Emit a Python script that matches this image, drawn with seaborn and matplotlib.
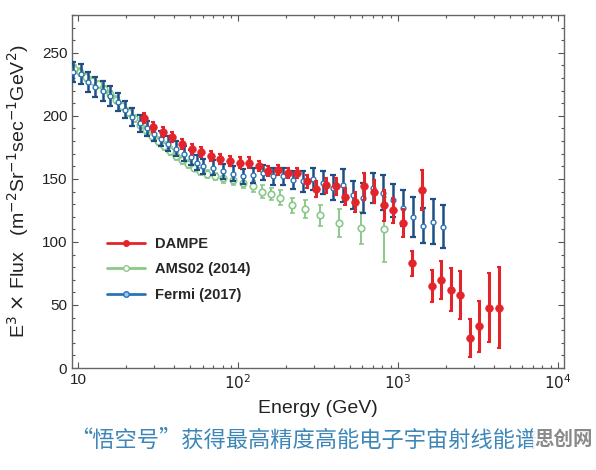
import numpy as np
import pandas as pd
import matplotlib
matplotlib.use("Agg")
import matplotlib.pyplot as plt
import seaborn as sns
from matplotlib.lines import Line2D
from matplotlib.ticker import MultipleLocator, FixedLocator, FixedFormatter, LogLocator, NullFormatter

# DAMPE (GeV, E^3 flux, error)
dampe_e = [25.7, 29.5, 33.9, 38.9, 44.6, 51.3, 58.9, 67.6, 77.6, 89.1,
           102.3, 117.5, 134.9, 154.9, 177.8, 204.2, 234.4, 269.2, 309.0, 354.8,
           407.4, 467.7, 537.0, 616.6, 707.9, 812.8, 933.3, 1071.5, 1230.3, 1412.5,
           1621.8, 1862.1, 2138.0, 2454.7, 2818.4, 3235.9, 3715.4, 4265.8]
dampe_f = [198, 191, 187, 183, 178, 174, 171, 168, 166, 164,
           163, 163, 160, 156, 157, 155, 155, 148, 142, 145,
           144, 136, 132, 144, 140, 129, 125, 115, 83, 141,
           65, 70, 62, 58, 24, 33, 48, 48]
dampe_err = [4, 4, 4, 4, 4, 4, 4, 4, 4, 4,
             4, 4, 4, 4, 4, 4, 4, 5, 6, 6,
             7, 7, 8, 11, 9, 12, 10, 11, 10, 16,
             13, 15, 17, 19, 15, 20, 27, 32]

# AMS02 (2014)
ams_e = [9.44, 10.3, 11.2, 12.2, 13.3, 14.5, 15.8, 17.3, 18.8, 20.5,
         22.4, 24.4, 26.6, 29.0, 31.6, 34.5, 37.6, 41.0, 44.7, 48.7,
         53.1, 57.9, 64.0, 71.8, 80.6, 93.1, 107.5, 124, 141, 161,
         183, 217, 262, 325, 428, 587, 818]
ams_f = [237, 235, 231, 228, 225, 221, 217, 213, 208, 203,
         198, 193, 189, 184, 180, 176, 172, 168, 165, 162,
         159, 156, 154, 152, 151, 149, 147, 144, 140, 138,
         135, 129, 126, 121, 115, 111, 110]
ams_err = [3, 3, 3, 3, 3, 3, 3, 3, 3, 3,
           3, 3, 3, 3, 3, 3, 3, 3, 3, 3,
           3, 3, 3, 3, 4, 4, 4, 4, 5, 5,
           6, 6, 7, 8, 11, 13, 26]

# Fermi (2017)
fermi_e = [9.31, 10.4, 11.5, 12.8, 14.3, 15.8, 17.8, 19.7, 21.8, 24.4,
           27.0, 29.9, 33.0, 36.5, 41.0, 46.0, 50.9, 55.4, 60.4, 69.8,
           80.6, 93.1, 107.5, 124, 143, 166, 191, 221, 255, 294,
           340, 392, 453, 523, 604, 698, 806, 931, 1075, 1241,
           1433, 1655, 1911]
fermi_f = [235, 233, 227, 223, 220, 216, 211, 205, 199, 194,
           190, 186, 182, 178, 174, 170, 167, 163, 160, 159,
           156, 154, 152, 153, 155, 152, 152, 149, 148, 150,
           147, 143, 145, 137, 135, 143, 139, 133, 127, 120,
           113, 116, 112]
fermi_err = [8, 8, 8, 8, 8, 8, 7, 7, 7, 7,
             6, 6, 6, 6, 6, 6, 6, 6, 6, 6,
             6, 6, 6, 6, 6, 7, 7, 7, 8, 9,
             9, 10, 13, 11, 12, 12, 14, 13, 14, 16,
             14, 18, 17]

RED = "#e3242b"
GREEN = "#8cc88a"
BLUE = "#2a74b8"
NAVY = "#1d4f86"

sns.set_style("ticks")
plt.rcParams["font.family"] = ["Liberation Sans", "Noto Sans CJK SC", "DejaVu Sans"]

fig = plt.figure(figsize=(5.96, 4.70), dpi=100)
ax = fig.add_axes([0.121, 0.217, 0.825, 0.751])

ams = pd.DataFrame({"E": ams_e, "F": ams_f, "err": ams_err})
fermi = pd.DataFrame({"E": fermi_e, "F": fermi_f, "err": fermi_err})
dampe = pd.DataFrame({"E": dampe_e, "F": dampe_f, "err": dampe_err})

# AMS02
ax.errorbar(ams["E"], ams["F"], yerr=ams["err"], fmt="none", ecolor=GREEN,
            elinewidth=1.4, capsize=1.8, capthick=1.2, zorder=2)
sns.scatterplot(data=ams, x="E", y="F", ax=ax, marker="o", s=22,
                facecolor="white", edgecolor=GREEN, linewidth=1.2, zorder=3)

# Fermi
ax.errorbar(fermi["E"], fermi["F"], yerr=fermi["err"], fmt="none", ecolor=NAVY,
            elinewidth=1.8, capsize=2.2, capthick=1.6, zorder=4)
sns.scatterplot(data=fermi, x="E", y="F", ax=ax, marker="o", s=12,
                facecolor="white", edgecolor=BLUE, linewidth=1.0, zorder=5)

# DAMPE
ax.errorbar(dampe["E"], dampe["F"], yerr=dampe["err"], fmt="none", ecolor=RED,
            elinewidth=2.2, capsize=1.5, capthick=1.5, zorder=6)
sns.scatterplot(data=dampe, x="E", y="F", ax=ax, marker="o", s=30,
                color=RED, edgecolor=RED, linewidth=0.5, zorder=7)

ax.set_xscale("log")
ax.set_xlim(9.17, 1.09e4)
ax.set_ylim(0, 280)

ax.xaxis.set_major_locator(FixedLocator([10, 100, 1000, 10000]))
ax.xaxis.set_major_formatter(FixedFormatter(["10", "$10^2$", "$10^3$", "$10^4$"]))
ax.xaxis.set_minor_locator(LogLocator(base=10, subs=np.arange(2, 10)))
ax.xaxis.set_minor_formatter(NullFormatter())
ax.yaxis.set_major_locator(MultipleLocator(50))
ax.yaxis.set_minor_locator(MultipleLocator(10))

ax.tick_params(which="both", direction="in", top=True, right=True, colors="#555555",
               labelcolor="#222222", labelsize=11, width=0.8)
ax.tick_params(which="major", length=4)
ax.tick_params(which="minor", length=2.5)
for s in ax.spines.values():
    s.set_color("#666666")
    s.set_linewidth(1.0)

ax.set_xlabel("Energy (GeV)", fontsize=14, color="#222222", labelpad=6)
ax.set_ylabel(r"E$^3$ $\times$ Flux   (m$^{-2}$Sr$^{-1}$sec$^{-1}$GeV$^2$)",
              fontsize=14, color="#222222", labelpad=8)

handles = [
    Line2D([], [], color=RED, lw=2, marker="o", ms=4, mfc=RED, mec=RED),
    Line2D([], [], color=GREEN, lw=2, marker="o", ms=4, mfc="white", mec=GREEN),
    Line2D([], [], color=BLUE, lw=2, marker="o", ms=4, mfc="#9fc6e6", mec=BLUE),
]
leg = ax.legend(handles, ["DAMPE", "AMS02 (2014)", "Fermi (2017)"],
                loc="lower left", bbox_to_anchor=(0.045, 0.15), frameon=False,
                handlelength=2.6, handletextpad=0.7, labelspacing=0.8,
                prop={"family": "Liberation Sans", "weight": "bold", "size": 10.5})

fig.text(0.51, 0.064, "“悟空号”获得最高精度高能电子宇宙射线能谱",
         ha="center", va="center", fontsize=16, color="#3d86b8",
         family=["Noto Sans CJK SC", "DejaVu Sans"])
fig.text(0.945, 0.064, "思创网", ha="center", va="center", fontsize=14,
         color="#8a8a8a", weight="bold", family=["Noto Sans CJK SC", "DejaVu Sans"],
         bbox=dict(facecolor="white", edgecolor="none", pad=1, alpha=0.85))

fig.savefig("out.png", dpi=100)
